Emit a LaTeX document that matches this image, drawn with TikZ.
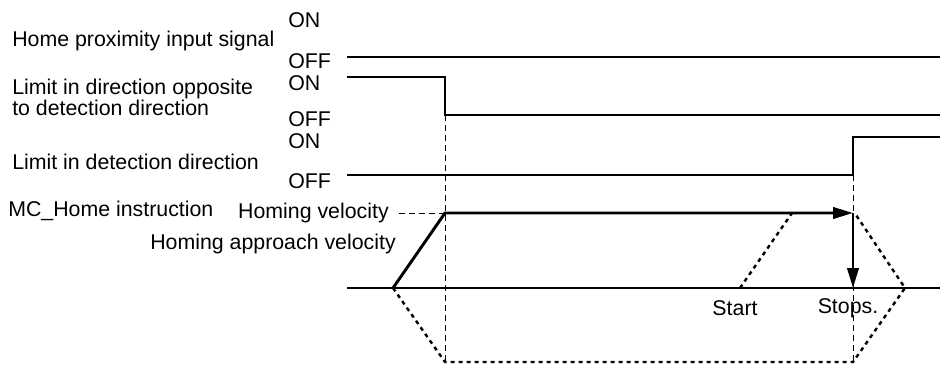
\documentclass[tikz,border=0pt]{standalone}
\usepackage{fontspec}
\setmainfont{Liberation Sans}
\usetikzlibrary{arrows.meta,positioning}

\begin{document}
\begin{tikzpicture}[x=0.75pt,y=-0.75pt,>={Triangle[length=15pt,width=8.5pt]},
  lbl/.style={anchor=west,inner sep=0pt,align=left,font=\fontsize{16}{15.75}\selectfont},
  signal/.style={line width=1.5pt},
  guide/.style={dash pattern=on 4.5pt off 3pt,line width=0.75pt},
  virt/.style={dash pattern=on 3pt off 3pt,line width=1.8pt},
  speed/.style={line width=2.2pt}]
  \useasboundingbox (0,0) rectangle (940,365);

  % signal names
  \node[lbl] (prox) at (12,41) {Home proximity input signal};
  \node[lbl] (revlim) at (12,97) {Limit in direction opposite\\to detection direction};
  \node[lbl] (fwdlim) at (12,162) {Limit in detection direction};
  \node[lbl] (cmd) at (8,211) {MC\_Home instruction};
  \node[lbl,anchor=east] (hv) at (389,213) {Homing velocity};
  \node[lbl,anchor=east] (hav) at (396,244) {Homing approach velocity};

  % levels
  \node[lbl] (on1) at (288,20) {ON};
  \node[lbl] (off1) at (288,61) {OFF};
  \node[lbl] (on2) at (288,83) {ON};
  \node[lbl] (off2) at (288,119) {OFF};
  \node[lbl] (on3) at (288,141) {ON};
  \node[lbl] (off3) at (288,181) {OFF};

  % signal traces
  \coordinate (s1a) at (347,57);
  \coordinate (s1b) at (940,57);
  \coordinate (s2a) at (347,77);
  \coordinate (s2low) at (445,115);
  \coordinate (s2b) at (940,115);
  \coordinate (s3a) at (347,175);
  \coordinate (s3rise) at (853,175);
  \coordinate (s3high) at (853,137);
  \coordinate (s3b) at (940,137);
  \draw[signal] (s1a) -- (s1b);
  \draw[signal] (s2a) -| (s2low) -- (s2b);
  \draw[signal] (s3a) -- (s3rise) -- (s3high) -- (s3b);

  % velocity profile
  \coordinate (ax0) at (347,288);
  \coordinate (ax1) at (940,288);
  \coordinate (v0) at (393,288);
  \coordinate (vtop) at (445,213);
  \coordinate (vend) at (853,213);
  \coordinate (vstop) at (853,288);
  \coordinate (vbot1) at (445,362);
  \coordinate (vbot2) at (853,362);
  \coordinate (vrev) at (905,288);
  \coordinate (vback) at (856,215);
  \coordinate (st0) at (740,288);
  \coordinate (st1) at (792,213);
  \draw[signal] (ax0) -- (ax1);
  \draw[speed,->] (v0) -- (vtop) -- (vend);
  \draw[speed,->] (vend) -- (vstop);
  \draw[virt] (v0) -- (vbot1) -- (vbot2) -- (vrev) -- (vback);
  \draw[virt] (st0) -- (st1);

  % guides
  \draw[guide] (s2low) -- (vbot1);
  \draw[guide] (s3rise) -- (vbot2);
  \draw[guide] ([xshift=7.5pt]hv.east) -- (vtop);

  \node[lbl,anchor=center] (start) at (735,308) {Start};
  \node[lbl,anchor=center] (stops) at (848,308) {Stops.};
\end{tikzpicture}
\end{document}
